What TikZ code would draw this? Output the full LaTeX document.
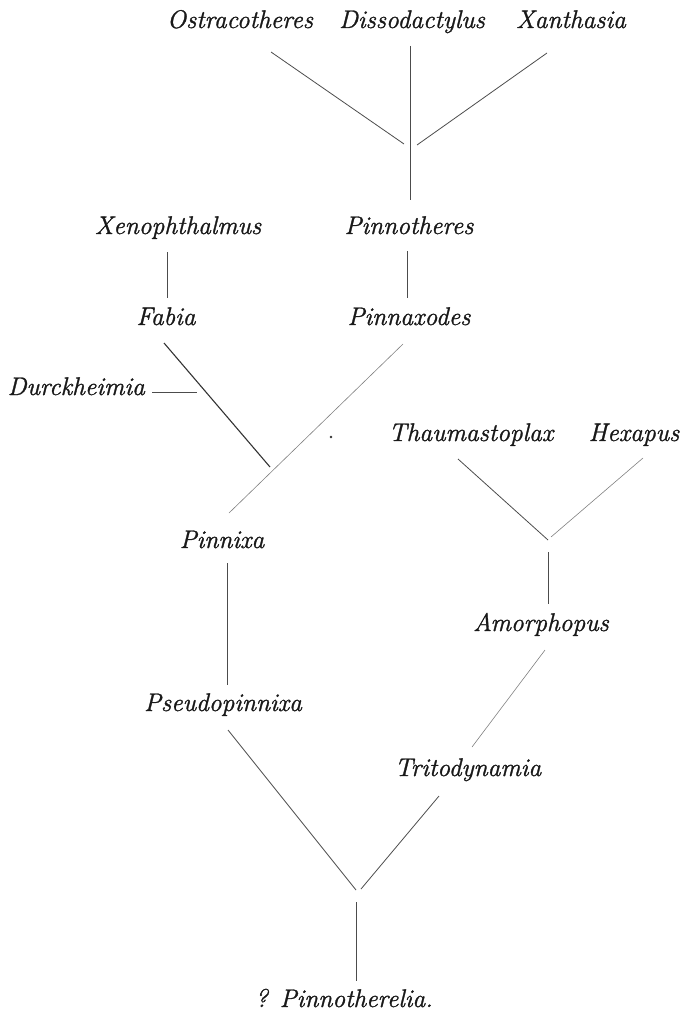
\documentclass[tikz,border=0pt]{standalone}
\usepackage{fontspec}
\newfontfamily\labfont{Latin Modern Roman}[ItalicFeatures={FakeBold=1.2}]
\begin{document}
\begin{tikzpicture}[x=1pt,y=-1pt,
  taxon/.style={font=\labfont\fontsize{25.5}{29}\selectfont\itshape, inner sep=0pt, anchor=base, text=black!90},
  branch/.style={line width=0.8pt, draw=black!70},
  darkbranch/.style={line width=1.1pt, draw=black!80},
  faintbranch/.style={line width=0.6pt, draw=black!50}]
\useasboundingbox (0,0) rectangle (684,1014);
% taxa
\node[taxon] (ostr)  at (240,28)  {Ostracotheres};
\node[taxon] (diss)  at (412,28)  {Dissodactylus};
\node[taxon] (xant)  at (571,28)  {Xanthasia};
\node[taxon] (xeno)  at (178,234) {Xenophthalmus};
\node[taxon] (pnth)  at (409,234) {Pinnotheres};
\node[taxon] (fabi)  at (166,325) {Fabia};
\node[taxon] (pnax)  at (409,325) {Pinnaxodes};
\node[taxon, anchor=base east] (durc) at (145,395) {Durckheimia};
\node[taxon] (thau)  at (471,441) {Thaumastoplax};
\node[taxon] (hexa)  at (634,441) {Hexapus};
\node[taxon] (pnix)  at (222,548) {Pinnixa};
\node[taxon] (amor)  at (541,631) {Amorphopus};
\node[taxon] (pseu)  at (223,711) {Pseudopinnixa};
\node[taxon] (trit)  at (468,776) {Tritodynamia};
\node[taxon] (pnrl)  at (344,1007) {? Pinnotherelia.};
% connector end points
\coordinate (ostr-e) at (271,52);
\coordinate (j1a)    at (404,144);
\coordinate (diss-e) at (410,46);
\coordinate (pnth-n) at (410,200);
\coordinate (xant-e) at (547,53);
\coordinate (j1b)    at (417,145);
\coordinate (xeno-s) at (167,252);
\coordinate (fabi-n) at (167,298);
\coordinate (pnth-s) at (407,251);
\coordinate (pnax-n) at (407,298);
\coordinate (fabi-s) at (164,343);
\coordinate (j2)     at (270,467);
\coordinate (durc-e) at (152,392);
\coordinate (j3)     at (197,392);
\coordinate (pnax-s) at (403,344);
\coordinate (pnix-n) at (229,513);
\coordinate (pnix-s) at (227,563);
\coordinate (pseu-n) at (227,685);
\coordinate (thau-s) at (458,459);
\coordinate (j4a)    at (548,540);
\coordinate (hexa-s) at (643,458);
\coordinate (j4b)    at (551,537);
\coordinate (j4c)    at (548,552);
\coordinate (amor-n) at (548,604);
\coordinate (amor-s) at (545,650);
\coordinate (trit-n) at (472,747);
\coordinate (pseu-s) at (228,730);
\coordinate (j5a)    at (356,890);
\coordinate (trit-s) at (439,796);
\coordinate (j5b)    at (361,889);
\coordinate (j5c)    at (356,902);
\coordinate (pnrl-n) at (356,981);
% connectors
\draw[branch] (ostr-e) -- (j1a);
\draw[branch] (diss-e) -- (pnth-n);
\draw[branch] (xant-e) -- (j1b);
\draw[branch] (xeno-s) -- (fabi-n);
\draw[branch] (pnth-s) -- (pnax-n);
\draw[darkbranch] (fabi-s) -- (j2);
\draw[branch] (durc-e) -- (j3);
\draw[faintbranch] (pnax-s) -- (pnix-n);
\draw[branch] (pnix-s) -- (pseu-n);
\draw[branch] (thau-s) -- (j4a);
\draw[faintbranch] (hexa-s) -- (j4b);
\draw[branch] (j4c) -- (amor-n);
\draw[faintbranch] (amor-s) -- (trit-n);
\draw[branch] (pseu-s) -- (j5a);
\draw[branch] (trit-s) -- (j5b);
\draw[branch] (j5c) -- (pnrl-n);
% stray dot
\fill[black!80] (331,437) circle (1.3);
\end{tikzpicture}
\end{document}
